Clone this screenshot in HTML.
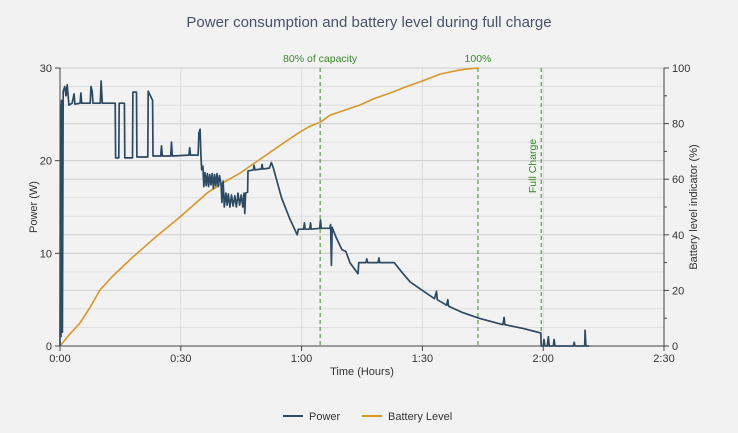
<!DOCTYPE html>
<html><head><meta charset="utf-8"><style>
html,body{margin:0;padding:0;background:#f2f2f2;}
svg{display:block;font-family:"Liberation Sans",sans-serif;}
</style></head><body>
<svg id="chart" width="738" height="433" viewBox="0 0 738 433">
<rect x="0" y="0" width="738" height="433" fill="#f2f2f2"/>
<text x="369" y="27" text-anchor="middle" font-size="15" fill="#4b5168">Power consumption and battery level during full charge</text>
<g id="grid"></g><g id="axes"></g><g id="marks"></g>
<text transform="translate(37,207) rotate(-90)" text-anchor="middle" font-size="11" fill="#333">Power (W)</text>
<text transform="translate(697,207) rotate(-90)" text-anchor="middle" font-size="11" fill="#333">Battery level indicator (%)</text>
<text x="362" y="375" text-anchor="middle" font-size="11" fill="#333">Time (Hours)</text>
<g>
<g><line x1="283" y1="416" x2="303" y2="416" stroke="#2d4a63" stroke-width="2"/><text x="309" y="420" font-size="11" fill="#333">Power</text></g>
<g><line x1="362" y1="416" x2="382" y2="416" stroke="#d9962a" stroke-width="2"/><text x="388" y="420" font-size="11" fill="#333">Battery Level</text></g>
</g>
</svg>
<script>
const powerT=[0,0.1,0.25,0.4,0.6,0.8,1.2,1.5,1.8,2.2,3,3.5,3.7,5,5.2,5.4,7.5,7.7,8,8.2,10,10.2,10.5,13.7,13.8,14.6,14.7,16,16.1,18,18.1,19,19.1,21.8,21.9,23,23.1,25,25.2,25.4,27.5,27.7,27.9,32,32.2,32.4,34.3,34.5,34.8,35.0,35.2,35.5,35.7,36.0,36.3,36.6,36.9,37.2,37.5,37.8,38.1,38.4,38.7,39,39.3,39.6,40,40.2,40.5,40.8,41.2,41.5,41.8,42.2,42.6,43,43.4,43.8,44.2,44.6,45,45.4,45.7,45.9,46.1,46.6,46.7,48,48.2,48.4,50,50.2,50.4,52,52.5,53,55,57,58.9,59.2,60.5,60.7,60.9,62,62.2,62.4,64.5,64.7,64.9,67,67.2,67.4,67.6,68.5,70,71,72,74,74.2,76,76.2,76.4,79,79.2,79.4,83,85,87,90,93,93.5,93.7,96,96.3,96.5,100,104,110,110.3,110.5,115,119.4,119.5,120,120.2,120.4,121,121.3,121.5,122.5,122.7,122.9,127.5,127.7,127.9,130.3,130.4,130.6,131.4];
const powerW=[0,26,1,26.5,1.5,27.5,28,27,28.2,26,26.2,27.2,26.1,26.2,27.3,26.2,26.2,28,27.5,26.2,26.2,28.6,26.2,26.2,20.3,20.3,26.2,26.2,20.3,20.3,27.4,27.4,20.4,20.4,27.5,26.5,20.5,20.5,21.6,20.5,20.5,22,20.5,20.6,21.4,20.6,20.6,23,23.4,20.6,19,19.4,17.2,18.7,17.3,18.6,17.2,18.5,17.4,18.6,17,18.5,17.3,18.6,17.2,18.4,17.4,15.5,17.8,15,16.5,15.2,16.4,15,16.3,15.1,16.2,15,16.5,15.2,16.3,15,16.5,14.3,16.5,16.6,18.9,19,19.5,19,19.1,19.6,19.1,19.2,19.8,19.2,16,13.8,12,12.6,12.6,13.3,12.6,12.6,13.3,12.6,12.7,13.6,12.7,12.7,13.1,8.7,12.8,11.8,10.4,10.2,9,7.8,9,9,9.4,9,9,9.5,9,9,7.9,6.9,6,5.1,5.9,5.0,4.4,5.0,4.3,3.6,3,2.3,3.1,2.3,1.9,1.4,0,0,0.7,0,0,1,0,0,0.7,0,0,0.4,0,0,1.7,0,0];
const batteryT=[0,2.5,5,7.5,9.9,13,18.1,24,29.8,36.5,40,44.7,48,52,56,59.6,62,64.8,67,71,74.5,78,82,86,89.9,94.4,97,99,101,104];
const batteryPct=[0,4.4,8.3,14,20.1,25,32,39.5,46.4,55,58.3,62.2,65.5,69.5,73.5,77,79,80.6,83,85,86.7,89,91,93.3,95.3,97.8,98.6,99.2,99.6,100];
const xTicks=[0,30,60,90,120,150];
const xTickLabels=["0:00","0:30","1:00","1:30","2:00","2:30"];
const yTicks=[0,10,20,30];
const y2Ticks=[0,20,40,60,80,100];
const markerT=[64.6,103.8,119.5];
const markerLabels=["80% of capacity","100%","Full Charge"];

const NS="http://www.w3.org/2000/svg";
const X0=60,X1=664,Y0=346,Y1=68;
const xs=t=>X0+(t/150)*(X1-X0);
const ys=w=>Y0-(w/30)*(Y0-Y1);
const y2s=p=>Y0-(p/100)*(Y0-Y1);
function mk(tag,attrs,parent){const e=document.createElementNS(NS,tag);for(const k in attrs)e.setAttribute(k,attrs[k]);parent.appendChild(e);return e;}
const grid=document.getElementById('grid'),axes=document.getElementById('axes'),marks=document.getElementById('marks');
for(let w=2;w<30;w+=2){const l=mk('line',{x1:X0,x2:X1,y1:ys(w),y2:ys(w),stroke:'#e0e0e0','stroke-width':1},grid);}
for(const p of [20,40,60,80]){const l=mk('line',{x1:X0,x2:X1,y1:y2s(p),y2:y2s(p),stroke:'#d2d2d2','stroke-width':1},grid);}
for(const w of [10,20,30]){const l=mk('line',{x1:X0,x2:X1,y1:ys(w),y2:ys(w),stroke:'#cccccc','stroke-width':1},grid);}
for(const t of xTicks.slice(1,-1)){const l=mk('line',{x1:xs(t),x2:xs(t),y1:Y1,y2:Y0,stroke:'#dcdcdc','stroke-width':1},grid);}
let a=mk('line',{x1:X0,x2:X1,y1:Y0,y2:Y0,stroke:'#444','stroke-width':1},axes);
a=mk('line',{x1:X0,x2:X0,y1:Y1,y2:Y0,stroke:'#444','stroke-width':1},axes);
a=mk('line',{x1:X1,x2:X1,y1:Y1,y2:Y0,stroke:'#444','stroke-width':1},axes);
xTicks.forEach((t,i)=>{mk('line',{x1:xs(t),x2:xs(t),y1:Y0,y2:Y0+5,stroke:'#444'},axes);const tx=mk('text',{x:xs(t),y:Y0+16,'text-anchor':'middle','font-size':11,fill:'#333'},axes);tx.textContent=xTickLabels[i];});
yTicks.forEach(w=>{mk('line',{x1:X0-5,x2:X0,y1:ys(w),y2:ys(w),stroke:'#444'},axes);const tx=mk('text',{x:X0-8,y:ys(w)+4,'text-anchor':'end','font-size':11,fill:'#333'},axes);tx.textContent=w;});
for(let p=0;p<=100;p+=10){mk('line',{x1:X1,x2:X1+(p%20===0?5:3),y1:y2s(p),y2:y2s(p),stroke:'#444'},axes);}
y2Ticks.forEach(p=>{const tx=mk('text',{x:X1+8,y:y2s(p)+4,'text-anchor':'start','font-size':11,fill:'#333'},axes);tx.textContent=p;});
markerT.forEach((t,i)=>{const l=mk('line',{x1:xs(t),x2:xs(t),y1:Y1,y2:Y0,stroke:'#3a8a2a','stroke-width':1,'stroke-dasharray':'4,3'},marks);
let tx;if(i<2){tx=mk('text',{x:xs(t),y:Y1-6,'text-anchor':'middle','font-size':10.5,fill:'#3a8a2a'},marks);}else{tx=mk('text',{transform:`translate(${xs(t)-5},${Y1+98}) rotate(-90)`,'text-anchor':'middle','font-size':10.5,fill:'#3a8a2a'},marks);}
tx.textContent=markerLabels[i];});
let d=batteryT.map((t,i)=>(i?'L':'M')+xs(t).toFixed(1)+','+y2s(batteryPct[i]).toFixed(1)).join('');
const bl=mk('path',{d:d,fill:'none',stroke:'#d9962a','stroke-width':1.6,'stroke-linejoin':'round'},marks);

d=powerT.map((t,i)=>(i?'L':'M')+xs(t).toFixed(1)+','+ys(powerW[i]).toFixed(1)).join('');
const pl=mk('path',{d:d,fill:'none',stroke:'#2d4a63','stroke-width':1.7,'stroke-linejoin':'round'},marks);

</script>
</body></html>
